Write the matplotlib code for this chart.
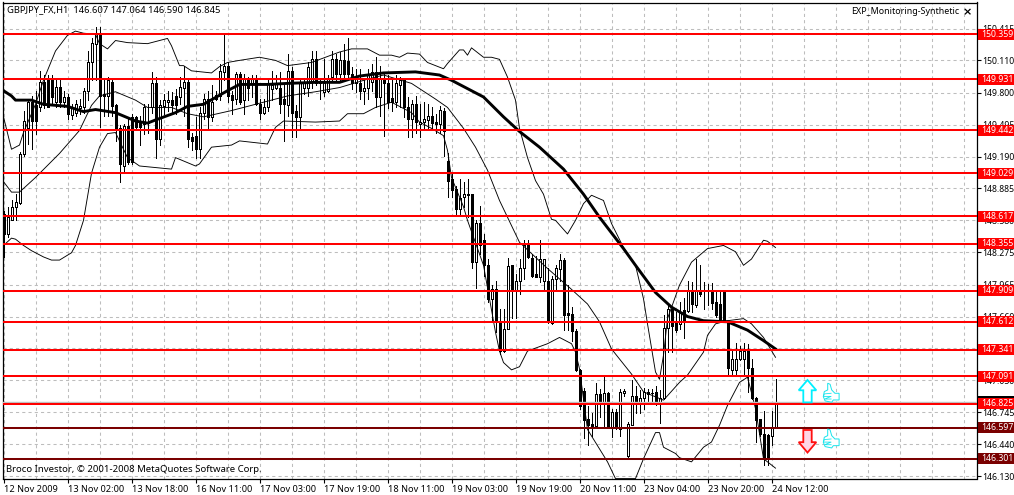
import matplotlib
matplotlib.use("Agg")
import matplotlib.pyplot as plt
from matplotlib.patches import Polygon, Rectangle
from matplotlib.transforms import blended_transform_factory

# ---------- data (prices) ----------
opens = [148.64,148.45,148.58,148.71,148.75,149.21,149.46,149.71,149.68,149.66,
149.90,149.92,149.92,149.71,149.86,149.71,149.76,149.59,149.61,149.65,
149.66,149.82,150.09,150.27,150.36,149.79,149.77,149.90,149.68,149.46,
149.10,149.48,149.57,149.57,149.52,149.50,149.51,149.66,149.89,149.36,
149.67,149.71,149.73,149.77,149.76,149.85,149.90,149.38,149.39,149.26,
149.61,149.74,149.57,149.78,149.77,150.00,150.06,149.78,149.74,149.98,
149.73,149.93,149.89,149.94,149.69,149.61,149.66,149.84,149.85,149.85,
149.74,149.68,150.01,149.63,149.57,149.85,149.85,149.90,150.12,149.91,
149.81,149.82,149.95,150.12,149.98,150.11,150.10,149.98,149.89,149.89,
149.82,149.85,149.90,150.00,149.76,149.93,149.89,149.75,149.71,149.87,
149.92,149.66,149.55,149.69,149.50,149.52,149.54,149.58,149.52,149.50,
149.63,149.15,148.98,148.88,148.69,148.80,148.82,148.83,148.18,148.55,
148.39,148.15,147.83,147.92,147.61,147.33,147.54,148.15,147.91,148.00,
148.12,148.34,148.22,148.07,148.04,148.00,148.00,147.60,148.02,148.11,
148.20,147.69,147.68,147.52,147.15,146.95,146.68,146.63,146.61,146.92,
146.83,146.93,146.60,146.75,146.58,146.93,146.33,146.62,146.90,146.83,
146.88,146.94,146.93,146.94,146.83,146.88,147.55,147.73,147.61,147.59,
147.72,147.71,147.91,147.77,147.91,147.90,147.90,147.90,147.80,147.78,
147.91,147.61,147.15,147.15,147.25,147.25,147.34,147.17,146.88,146.68,
146.54,146.53,146.52,146.607]
highs = [148.67,148.71,148.77,148.83,149.23,149.63,149.73,149.77,149.82,150.01,
149.97,149.97,149.97,149.92,149.92,149.82,149.79,149.69,149.73,149.74,
149.85,150.20,150.32,150.43,150.43,149.93,149.95,149.94,149.69,149.49,
149.50,149.57,149.60,149.58,149.58,149.69,149.69,150.00,149.95,149.73,
149.79,149.82,149.81,149.84,149.95,150.06,149.93,149.42,149.57,149.66,
149.79,149.82,149.87,149.82,150.08,150.35,150.09,149.82,150.00,150.00,
149.98,149.95,149.97,149.97,149.74,149.74,149.92,150.01,149.97,150.00,
149.89,150.17,150.05,149.68,149.93,149.93,150.09,150.20,150.20,149.93,
150.12,149.97,150.20,150.17,150.19,150.27,150.32,150.05,150.03,150.03,
149.92,150.03,150.08,150.14,150.06,150.00,149.97,149.92,149.97,149.95,
149.94,149.76,149.73,149.77,149.69,149.71,149.69,149.66,149.60,149.67,
149.65,149.22,149.02,148.91,148.98,148.95,148.98,148.83,148.58,148.72,
148.45,148.21,147.96,148.00,147.73,147.73,148.22,148.15,148.07,148.21,
148.39,148.39,148.26,148.24,148.39,148.21,148.12,148.05,148.15,148.26,
148.22,147.96,147.75,147.54,147.16,146.98,146.80,146.74,147.02,146.97,
147.08,146.94,146.78,146.78,146.97,146.97,146.65,147.05,147.00,146.96,
146.98,146.97,146.97,147.00,146.96,147.67,147.76,147.75,147.70,147.80,
147.84,148.00,147.99,148.21,148.15,147.99,147.97,147.98,147.91,147.91,
147.91,147.62,147.33,147.41,147.38,147.41,147.40,147.25,146.89,146.68,
146.76,146.54,146.76,147.064]
lows = [148.23,148.42,148.58,148.58,148.74,149.20,149.31,149.26,149.41,149.63,
149.65,149.66,149.69,149.66,149.66,149.66,149.55,149.55,149.58,149.60,
149.61,149.73,149.92,149.92,149.47,149.58,149.58,149.58,149.34,148.95,
149.04,149.12,149.12,149.46,149.30,149.41,149.42,149.61,149.18,149.30,
149.60,149.63,149.60,149.60,149.69,149.58,149.28,149.25,149.18,149.18,
149.55,149.46,149.53,149.73,149.73,149.92,149.71,149.60,149.69,149.69,
149.60,149.73,149.76,149.68,149.55,149.60,149.63,149.73,149.84,149.61,
149.34,149.58,149.38,149.38,149.46,149.79,149.77,149.85,149.87,149.74,
149.77,149.81,149.92,149.92,149.92,149.92,149.93,149.84,149.81,149.74,
149.69,149.74,149.82,149.66,149.58,149.39,149.65,149.63,149.66,149.66,
149.57,149.38,149.38,149.42,149.38,149.46,149.46,149.46,149.42,149.42,
149.20,148.80,148.80,148.64,148.63,148.71,148.61,148.12,147.93,148.26,
148.05,147.80,147.62,147.51,147.30,147.32,147.54,147.65,147.65,147.88,
148.02,148.22,148.04,148.04,147.99,147.92,147.60,147.59,147.92,148.00,
147.53,147.53,147.43,147.14,146.78,146.50,146.43,146.52,146.60,146.70,
146.60,146.60,146.51,146.58,146.52,146.90,146.30,146.62,146.74,146.74,
146.78,146.84,146.84,146.81,146.64,146.87,147.32,147.32,147.51,147.54,
147.45,147.70,147.70,147.75,147.86,147.73,147.77,147.73,147.66,147.63,
147.61,147.11,147.10,147.11,147.24,147.11,146.94,146.87,146.46,146.52,
146.24,146.24,146.43,146.590]
closes = [148.45,148.61,148.71,148.76,149.21,149.53,149.71,149.53,149.53,149.90,
149.68,149.66,149.76,149.86,149.71,149.76,149.60,149.65,149.69,149.67,
149.82,150.09,150.28,150.36,149.77,149.77,149.92,149.67,149.46,149.12,
149.48,149.14,149.14,149.47,149.47,149.66,149.52,149.89,149.36,149.68,
149.73,149.73,149.68,149.68,149.86,149.90,149.36,149.34,149.26,149.61,
149.74,149.57,149.71,149.74,150.01,150.06,149.77,149.73,149.98,149.71,
149.93,149.85,149.93,149.69,149.61,149.66,149.89,149.87,149.89,149.69,
149.69,150.01,149.61,149.57,149.89,149.89,150.05,150.12,149.89,149.89,
149.89,149.94,150.12,149.98,150.11,149.98,149.98,149.89,149.93,149.82,
149.85,149.97,150.00,149.76,149.94,149.89,149.71,149.71,149.89,149.92,
149.66,149.55,149.69,149.52,149.52,149.55,149.58,149.51,149.50,149.64,
149.43,148.96,148.87,148.69,148.79,148.83,148.83,148.18,148.55,148.34,
148.15,147.83,147.92,147.62,147.33,147.54,148.14,147.91,148.00,148.12,
148.34,148.23,148.05,148.04,148.21,148.21,147.62,148.02,148.12,148.20,
147.67,147.67,147.52,147.15,146.80,146.67,146.62,146.60,146.92,146.83,
146.93,146.60,146.75,146.60,146.94,146.95,146.63,146.90,146.82,146.88,
146.94,146.92,146.93,146.83,146.88,147.55,147.73,147.57,147.53,147.70,
147.62,147.91,147.78,147.91,147.88,147.90,147.90,147.79,147.67,147.64,
147.61,147.17,147.25,147.25,147.33,147.33,147.17,146.88,146.67,146.54,
146.30,146.30,146.60,146.845]

ma_bars = [0,2,3,7,10,16,20,23,28,33,36,38,43,46,50,56,59,66,71,78,84,89,95,103,109,112,117,120,125,129,134,140,145,149,155,158,163,167,171,175,181,186,190,193]
ma_vals = [149.82,149.77,149.73,149.73,149.69,149.67,149.62,149.64,149.61,149.53,149.51,149.54,149.61,149.67,149.69,149.82,149.88,149.88,149.89,149.90,149.90,149.96,149.99,150.00,149.97,149.92,149.82,149.76,149.57,149.43,149.28,149.07,148.83,148.61,148.31,148.15,147.89,147.75,147.66,147.62,147.61,147.53,147.43,147.35]

up_bars = [0,2,4,5,8,10,13,16,18,20,23,24,26,28,31,36,41,42,44,45,47,52,54,56,59,64,68,71,77,84,87,91,92,94,97,99,101,104,106,108,110,111,114,115,116,117,120,122,124,126,128,129,131,133,135,137,138,141,143,145,147,150,152,155,158,160,161,163,164,165,166,169,172,176,180,183,185,187,190,191,193]
up_vals = [149.57,149.26,149.30,149.42,149.69,149.92,150.20,150.35,150.39,150.37,150.36,150.27,150.22,150.30,150.28,150.27,150.32,150.25,150.06,150.06,150.01,149.99,150.05,150.09,150.11,150.14,150.11,150.06,150.09,150.19,150.22,150.22,150.20,150.16,150.16,150.14,150.18,150.17,150.09,150.06,150.03,150.08,150.21,150.21,150.16,150.23,150.14,150.14,150.12,149.95,149.73,149.46,149.18,148.96,148.83,148.59,148.58,148.45,148.58,148.74,148.82,148.77,148.55,148.32,148.15,147.83,147.59,147.13,147.06,147.29,147.64,147.96,148.18,148.31,148.34,148.28,148.15,148.21,148.39,148.38,148.32]

mid_bars = [0,2,4,8,14,19,22,24,28,33,36,42,46,50,57,66,71,78,84,91,95,102,108,111,115,118,121,124,129,136,142,146,149,152,157,160,165,169,171,175,176,178,181,185,187,190,193]
mid_vals = [148.95,148.85,148.85,148.99,149.22,149.44,149.68,149.77,149.81,149.73,149.66,149.66,149.60,149.57,149.63,149.72,149.77,149.81,149.85,149.93,149.97,149.89,149.74,149.66,149.46,149.28,149.06,148.77,148.37,148.12,147.92,147.78,147.61,147.35,147.11,146.94,146.86,147.03,147.10,147.32,147.48,147.59,147.62,147.64,147.59,147.46,147.27]

low_bars = [0,2,3,5,7,10,12,14,17,18,20,22,24,26,28,31,34,42,43,48,49,52,57,59,66,68,70,78,84,86,90,93,97,102,104,107,110,111,112,115,116,120,123,124,125,127,129,131,136,139,142,143,144,146,151,153,158,160,163,164,165,168,169,172,175,177,179,181,184,186,188,190,193]
low_vals = [148.34,148.41,148.40,148.34,148.29,148.23,148.20,148.20,148.27,148.34,148.58,149.03,149.28,149.41,149.42,149.18,149.10,149.07,149.18,149.10,149.12,149.28,149.30,149.34,149.31,149.47,149.53,149.52,149.53,149.60,149.60,149.66,149.71,149.61,149.52,149.46,149.39,149.25,148.99,148.71,148.58,148.15,147.51,147.33,147.22,147.15,147.18,147.33,147.40,147.46,147.40,147.32,147.16,146.58,146.27,146.11,146.11,146.30,146.55,146.55,146.41,146.35,146.31,146.27,146.41,146.46,146.62,146.81,147.03,147.08,146.78,146.30,146.21]

level_vals = [150.359,149.931,149.442,149.029,148.617,148.355,147.909,147.612,147.341,147.091,146.825,146.597,146.301]
level_labels = ["150.359","149.931","149.442","149.029","148.617","148.355","147.909","147.612","147.341","147.091","146.825","146.597","146.301"]
level_cols = ["#ff0000"]*11 + ["#7a0000"]*2

price_ticks = [150.415,150.110,149.800,149.495,149.190,148.885,148.580,148.275,147.965,147.660,147.355,147.050,146.745,146.440,146.130]
price_labels = ["150.415","150.110","149.800","149.495","149.190","148.885","148.580","148.275","147.965","147.660","147.355","147.050","146.745","146.440","146.130"]
date_labels = ["12 Nov 2009","13 Nov 02:00","13 Nov 18:00","16 Nov 11:00","17 Nov 03:00","17 Nov 19:00","18 Nov 11:00","19 Nov 03:00","19 Nov 19:00","20 Nov 11:00","23 Nov 04:00","23 Nov 20:00","24 Nov 12:00"]
date_bars = [0,16,32,48,64,80,96,112,128,144,160,176,192]
title = "GBPJPY_FX,H1  146.607 147.064 146.590 146.845"
expert = "EXP_Monitoring-Synthetic"
credit = "Broco Investor, \u00a9 2001-2008 MetaQuotes Software Corp."
last_price = 146.845

# ---------- layout ----------
W, H = 1014, 495
FONT = "Noto Sans"
FS = 6.6
FS_NUM = 6.25
fig = plt.figure(figsize=(W/100, H/100), dpi=100, facecolor="white")
ax = fig.add_axes([2.5/W, 1-478.5/H, 974/W, 476/H])
ppx = 0.009565
ax.set_xlim(-0.25, -0.25+974/4)
ax.set_ylim(146.130-2*ppx, 150.415+26*ppx)
for s in ax.spines.values():
    s.set_linewidth(0.9); s.set_color("black")

ax.set_xticks(date_bars)
ax.set_xticks(range(0, 244, 8), minor=True)
ax.set_xticklabels(date_labels, fontsize=FS, family=FONT, ha="left")
ax.tick_params(axis="x", which="major", length=3, width=0.8, pad=1.5)
ax.tick_params(axis="x", which="minor", length=0)
ax.yaxis.tick_right()
ax.set_yticks(price_ticks)
ax.set_yticklabels(price_labels, fontsize=FS_NUM, family=FONT)
ax.tick_params(axis="y", length=3, width=0.8, pad=1.2)
ax.grid(True, which="major", axis="y", color="#bdbdbd", ls=(0, (3, 3)), lw=0.75, zorder=0)
ax.grid(True, which="both", axis="x", color="#bdbdbd", ls=(0, (3, 3)), lw=0.75, zorder=0)
ax.set_axisbelow(True)

# ---------- candles ----------
bars = list(range(len(opens)))
ax.vlines(bars, lows, highs, color="black", lw=0.7, zorder=2, antialiased=False)
for i, (o, c) in enumerate(zip(opens, closes)):
    up = c >= o
    ax.bar(i, abs(c-o), bottom=min(o, c), width=0.5, facecolor="white" if up else "black",
           edgecolor="black", linewidth=0.7, zorder=3, antialiased=False)

# ---------- indicators ----------
ax.plot(up_bars, up_vals, color="black", lw=0.65, zorder=4)
ax.plot(mid_bars, mid_vals, color="black", lw=0.65, zorder=4)
ax.plot(low_bars, low_vals, color="black", lw=0.65, zorder=4)
ax.plot(ma_bars, ma_vals, color="black", lw=2.1, zorder=4)

# ---------- level lines ----------
box = blended_transform_factory(ax.transAxes, ax.transData)
ax.axhline(last_price, color="#c0c0c0", lw=1.0, zorder=4.5)
ax.add_patch(Rectangle((1+1.5/974, last_price-5.5*ppx), 36/974, 11*ppx, transform=box,
                       facecolor="black", edgecolor="none", clip_on=False, zorder=5.5))
for v, col in zip(level_vals, level_cols):
    ax.axhline(v, color=col, lw=1.45, zorder=5)
for v, lab, col in zip(level_vals, level_labels, level_cols):
    ax.add_patch(Rectangle((1+1.5/974, v-5.5*ppx), 36/974, 11*ppx, transform=box,
                           facecolor=col, edgecolor="none", clip_on=False, zorder=6))
    ax.text(1+5/974, v, lab, transform=box, color="white", fontsize=FS_NUM, family=FONT,
            va="center", ha="left", clip_on=False, zorder=7)

# ---------- signal arrows / thumbs ----------
def poly(pts, **kw):
    ax.add_patch(Polygon(pts, closed=True, **kw))

arrow_dx = [0, 2.2, 1.05, 1.05, -1.05, -1.05, -2.2]
arrow_dy = [1, 0.08, 0.08, -1, -1, 0.08, 0.08]
poly([(201.0+a, 146.946+b*0.107) for a, b in zip(arrow_dx, arrow_dy)],
     facecolor="white", edgecolor="#00f0ff", lw=1.3, zorder=5.5)
poly([(201.0+a, 146.467-b*0.108) for a, b in zip(arrow_dx, arrow_dy)],
     facecolor="#ffd6e6", edgecolor="#ff1010", lw=1.3, zorder=5.5)
thumb_dx = [-1.0, -0.4, 0.0, 0.8, 1.85, 1.85, 0.4, 0.0, -1.65, -2.1, -1.85, -1.0]
thumb_dy = [0.096, 0.086, 0.032, 0.0, 0.0, -0.064, -0.064, -0.086, -0.073, -0.032, 0.016, 0.032]
for cy in (146.926, 146.489):
    poly([(207.05+a, cy+b) for a, b in zip(thumb_dx, thumb_dy)],
         facecolor="white", edgecolor="#18e4ec", lw=0.7, zorder=5.5)
    ax.plot([206.9, 205.2, 205.0, 206.9, 205.3, 206.9], [cy+0.0, cy-0.006, cy-0.03, cy-0.03, cy-0.055, cy-0.055],
            color="#18e4ec", lw=0.6, zorder=5.6)

# ---------- texts ----------
fig.text(7/W, 1-10/H, title, fontsize=6.75, family=FONT, va="center", ha="left", color="black")
fig.text(851/W, 1-12/H, expert, fontsize=6.4, family=FONT, va="center", ha="left", color="black")
fig.text(967/W, 1-12/H, "\u00d7", fontsize=8, family="DejaVu Sans", weight="bold", va="center", ha="center", color="black")
fig.text(6/W, 1-469.5/H, credit, fontsize=6.9, family=FONT, va="center", ha="left", color="black")

fig.savefig("out.png", dpi=100, facecolor="white")
